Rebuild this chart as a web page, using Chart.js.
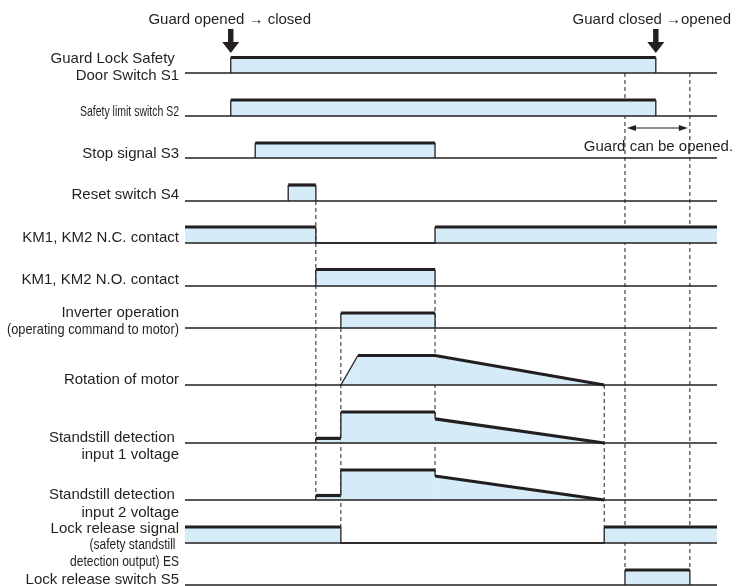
<!DOCTYPE html>
<html><head><meta charset="utf-8">
<script src="https://cdn.jsdelivr.net/npm/chart.js@4.4.0/dist/chart.umd.min.js"></script>
<style>html,body{margin:0;padding:0;background:#fff}canvas{display:block}</style>
</head><body>
<canvas id="c" width="736" height="586"></canvas>
<script>
// ---- Event times (time units, 0 .. 100) ----
const tGuardClosed = 8.6, tStopOn = 13.2, tResetOn = 19.4, tResetOff = 24.6,
      tInvOn = 29.3, tFullSpeed = 32.5, tStopMotor = 47.0, tStandstill = 78.8,
      tS5On = 82.7, tGuardOpened = 88.5, tS5Off = 94.9, tEnd = 100;

// ---- Signal names (rows, top to bottom) ----
const signalNames = ["S1", "S2", "S3", "S4", "KM_NC", "KM_NO", "INV", "MOTOR", "SD1", "SD2", "ES", "S5"];

// ---- Signal waveforms: times and levels (0 = off, 1 = full) ----
const s1Times    = [tGuardClosed, tGuardClosed, tGuardOpened, tGuardOpened];
const s1Levels   = [0, 1, 1, 0];
const s2Times    = [tGuardClosed, tGuardClosed, tGuardOpened, tGuardOpened];
const s2Levels   = [0, 1, 1, 0];
const s3Times    = [tStopOn, tStopOn, tStopMotor, tStopMotor];
const s3Levels   = [0, 1, 1, 0];
const s4Times    = [tResetOn, tResetOn, tResetOff, tResetOff];
const s4Levels   = [0, 1, 1, 0];
const kmNcTimes  = [0, tResetOff, tResetOff, tStopMotor, tStopMotor, tEnd];
const kmNcLevels = [1, 1, 0, 0, 1, 1];
const kmNoTimes  = [tResetOff, tResetOff, tStopMotor, tStopMotor];
const kmNoLevels = [0, 1, 1, 0];
const invTimes   = [tInvOn, tInvOn, tStopMotor, tStopMotor];
const invLevels  = [0, 1, 1, 0];
const motorTimes  = [tInvOn, tFullSpeed, tStopMotor, tStandstill];
const motorLevels = [0, 1, 1, 0];
const sd1Times   = [tResetOff, tResetOff, tInvOn, tInvOn, tStopMotor, tStopMotor, tStandstill];
const sd1Levels  = [0, 0.15, 0.15, 1, 1, 0.78, 0];
const sd2Times   = [tResetOff, tResetOff, tInvOn, tInvOn, tStopMotor, tStopMotor, tStandstill];
const sd2Levels  = [0, 0.15, 0.15, 1, 1, 0.8, 0];
const esTimes    = [0, tInvOn, tInvOn, tStandstill, tStandstill, tEnd];
const esLevels   = [1, 1, 0, 0, 1, 1];
const s5Times    = [tS5On, tS5On, tS5Off, tS5Off];
const s5Levels   = [0, 1, 1, 0];

const signalTimes  = [s1Times, s2Times, s3Times, s4Times, kmNcTimes, kmNoTimes, invTimes, motorTimes, sd1Times, sd2Times, esTimes, s5Times];
const signalLevels = [s1Levels, s2Levels, s3Levels, s4Levels, kmNcLevels, kmNoLevels, invLevels, motorLevels, sd1Levels, sd2Levels, esLevels, s5Levels];

// ---- Row labels ----
const rowLabels = [
  ["Guard Lock Safety ", "Door Switch S1"],
  ["Safety limit switch S2"],
  ["Stop signal S3"],
  ["Reset switch S4"],
  ["KM1, KM2 N.C. contact"],
  ["KM1, KM2 N.O. contact"],
  ["Inverter operation", "(operating command to motor)"],
  ["Rotation of motor"],
  ["Standstill detection ", "input 1 voltage"],
  ["Standstill detection ", "input 2 voltage"],
  ["Lock release signal", "(safety standstill", "detection output) ES"],
  ["Lock release switch S5"]
];
const topNotes = ["Guard opened \u2192 closed", "Guard closed \u2192opened"];
const noteTimes = [tGuardClosed, tGuardOpened];
const openWindowLabel = "Guard can be opened.";

// ---- Dashed guide lines: time, from (row, level) to (row, level) ----
const guideTimes   = [tResetOff, tInvOn, tStopMotor, tStandstill, tS5On, tS5Off];
const guideFromRow = [3, 6, 5, 7, 0, 0];
const guideFromLvl = [0, 0, 0, 0, 0, 0];
const guideToRow   = [9, 10, 9, 10, 11, 11];
const guideToLvl   = [0, 1, 0.8, 1, 1, 1];

// ---- Layout (pixels) ----
const rowBase = [73, 116, 158, 201, 243, 286, 328, 385, 443, 500, 543, 585];
const rowAmp  = [15.5, 16, 15, 16, 16, 16.5, 15, 29.5, 31, 30, 16, 15];
const labelDy = [[-16, 1], [-6], [-6], [-8], [-7], [-8], [-17, 0], [-7], [-7, 10], [-7, 11], [-16, 0, 17], [-7]];
const TEXT_SHIFT = 1.8;
// condensed label lines: row -> {line index: [font px, target width px, right inset px]}
const narrowLines = {1: {0: [15, 99, 0]}, 6: {1: [15, 172, 0]}, 10: {1: [14, 86, 3.5], 2: [14.5, 109, 0]}};

const INK = '#231f20';
const FILL = '#d5ecf8';
const FONT = '"Liberation Sans", Arial, Helvetica, sans-serif';
const yOf = (r, lvl) => rowBase[r] - lvl * rowAmp[r];

const datasets = [];
// guides
guideTimes.forEach((t, i) => {
  datasets.push({
    data: [{x: t, y: yOf(guideFromRow[i], guideFromLvl[i])}, {x: t, y: yOf(guideToRow[i], guideToLvl[i])}],
    borderColor: INK, borderWidth: 1, borderDash: [4, 3], pointRadius: 0, fill: false, order: 3
  });
});
// signals
signalNames.forEach((name, r) => {
  const base = rowBase[r];
  datasets.push({
    label: name,
    data: signalTimes[r].map((t, k) => ({x: t, y: yOf(r, signalLevels[r][k])})),
    borderColor: INK, backgroundColor: FILL, borderWidth: 1.3, pointRadius: 0,
    fill: {value: base}, order: 2, borderJoinStyle: 'miter', borderCapStyle: 'butt',
    segment: {
      borderWidth: ctx => {
        const a = ctx.p0.parsed, b = ctx.p1.parsed;
        const vertical = Math.abs(a.x - b.x) < 1e-6;
        const atBase = Math.abs(a.y - base) < 0.01;
        return (vertical || atBase) ? 1.3 : 3.2;
      }
    }
  });
});
// baselines
signalNames.forEach((name, r) => {
  datasets.push({
    data: [{x: 0, y: rowBase[r]}, {x: tEnd, y: rowBase[r]}],
    borderColor: INK, borderWidth: 1.5, pointRadius: 0, fill: false, order: 1
  });
});

const decor = {
  id: 'decor',
  afterDraw(chart) {
    const c = chart.ctx, xs = chart.scales.x, ys = chart.scales.y;
    const X = t => xs.getPixelForValue(t);
    const Y = v => ys.getPixelForValue(v);
    c.save();
    c.fillStyle = INK; c.strokeStyle = INK;
    c.textBaseline = 'middle';
    // row labels
    const right = X(0) - 6;
    rowLabels.forEach((lines, r) => {
      lines.forEach((txt, k) => {
        const nl = (narrowLines[r] || {})[k];
        const y = Y(rowBase[r] + labelDy[r][k] + TEXT_SHIFT);
        c.textAlign = 'right';
        if (nl) {
          c.save();
          c.font = nl[0] + 'px ' + FONT;
          const sx = Math.min(1, nl[1] / c.measureText(txt).width);
          c.translate(right - nl[2], y);
          c.scale(sx, 1);
          c.fillText(txt, 0, 0);
          c.restore();
        } else {
          c.font = '15px ' + FONT;
          c.fillText(txt, right, y);
        }
      });
    });
    // top notes and arrows
    c.font = '15px ' + FONT;
    c.textAlign = 'center';
    const noteDx = [-1, -4];
    noteTimes.forEach((t, i) => {
      const x = X(t);
      c.fillText(topNotes[i], x + noteDx[i], Y(18 + TEXT_SHIFT));
      c.fillRect(x - 2.7, Y(29), 5.4, Y(43) - Y(29));
      c.beginPath();
      c.moveTo(x - 8.5, Y(42)); c.lineTo(x + 8.5, Y(42)); c.lineTo(x, Y(53)); c.closePath();
      c.fill();
    });
    // guard can be opened window
    const xa = X(tS5On) + 2, xb = X(tS5Off) - 2, ya = Y(128);
    c.lineWidth = 1;
    c.beginPath(); c.moveTo(xa + 4, ya); c.lineTo(xb - 4, ya); c.stroke();
    [[xa, 1], [xb, -1]].forEach(([x, d]) => {
      c.beginPath(); c.moveTo(x, ya); c.lineTo(x + d * 9, ya - 3); c.lineTo(x + d * 9, ya + 3); c.closePath(); c.fill();
    });
    c.font = '15px ' + FONT;
    c.fillText(openWindowLabel, (X(tS5On) + X(tS5Off)) / 2 + 1, Y(145 + TEXT_SHIFT));
    c.restore();
  }
};

new Chart(document.getElementById('c'), {
  type: 'line',
  data: {datasets},
  options: {
    responsive: false, animation: false, devicePixelRatio: 1,
    layout: {padding: {left: 185, right: 19, top: 0, bottom: 0}},
    plugins: {legend: {display: false}, tooltip: {enabled: false}, filler: {propagate: false}},
    elements: {line: {tension: 0}},
    scales: {
      x: {type: 'linear', min: 0, max: tEnd, display: false},
      y: {type: 'linear', min: 0, max: 586, reverse: true, display: false}
    }
  },
  plugins: [decor]
});
</script>
</body></html>
